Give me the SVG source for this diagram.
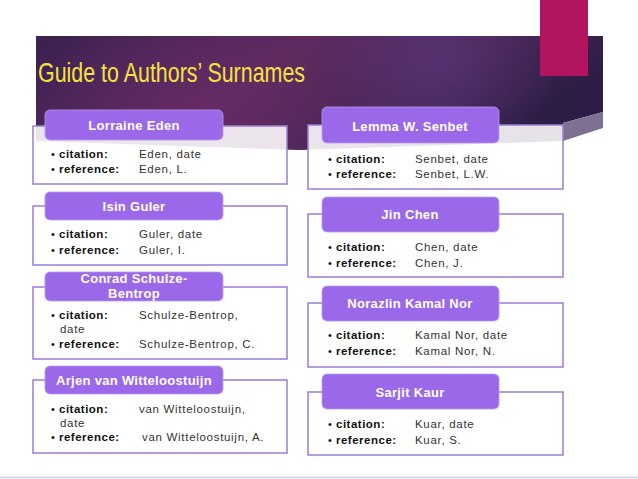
<svg xmlns="http://www.w3.org/2000/svg" width="638" height="479" viewBox="0 0 638 479">
<defs>
<linearGradient id="bg" x1="0" y1="0" x2="1" y2="0.3">
<stop offset="0" stop-color="#3a2150"/>
<stop offset="0.45" stop-color="#5e2a60"/>
<stop offset="0.75" stop-color="#4a2556"/>
<stop offset="1" stop-color="#2d1d45"/>
</linearGradient>
<radialGradient id="glow" cx="440" cy="60" r="120" gradientUnits="userSpaceOnUse">
<stop offset="0" stop-color="#5a3a80" stop-opacity="0.6"/>
<stop offset="1" stop-color="#5a3a80" stop-opacity="0"/>
</radialGradient>
<radialGradient id="glow2" cx="200" cy="130" r="160" gradientUnits="userSpaceOnUse">
<stop offset="0" stop-color="#6e2c68" stop-opacity="0.55"/>
<stop offset="1" stop-color="#6e2c68" stop-opacity="0"/>
</radialGradient>
</defs>
<style>
.box{fill:#ffffff;fill-opacity:0.88;stroke:#9b7dd6;stroke-width:1.5}
.hdr{fill:#9a68e8;stroke:#b79cf0;stroke-width:0.8}
.ht{font-family:"Liberation Sans",Arial,sans-serif;font-size:13px;font-weight:bold;fill:#ffffff;text-anchor:middle;letter-spacing:0.3px}
.lb{font-family:"Liberation Sans",Arial,sans-serif;font-size:11.5px;font-weight:bold;fill:#111111;letter-spacing:0.5px}
.bu{font-family:"Liberation Sans",Arial,sans-serif;font-size:11px;fill:#111111;text-anchor:middle}
.v{font-family:"Liberation Sans",Arial,sans-serif;font-size:11.5px;fill:#333333;letter-spacing:0.7px}
</style>
<rect width="638" height="479" fill="#ffffff"/>
<g id="banner">
<path d="M36,36 H603 V112 L563,123 L563,141 L300,150 L36,141 Z" fill="url(#bg)"/>
<path d="M36,36 H603 V112 L563,123 L563,141 L300,150 L36,141 Z" fill="url(#glow2)"/>
<path d="M36,36 H603 V112 L563,123 L563,141 L300,150 L36,141 Z" fill="url(#glow)"/>
<polygon points="563,123 603,112 603,128 563,141" fill="#7e7090"/>
<rect x="540" y="0" width="48" height="76" fill="#b3145f"/>
<text x="38" y="82" font-family="Liberation Sans,Arial,sans-serif" font-size="27.5" fill="#f3e33f" textLength="267" lengthAdjust="spacingAndGlyphs">Guide to Authors’ Surnames</text>
</g>
<line x1="0" y1="477.5" x2="638" y2="477.5" stroke="#d6cce0" stroke-width="1.5"/>

<g id="node-eden">
<rect class="box" x="33" y="126" width="254" height="58"/>
<rect class="hdr" x="45" y="110" width="178" height="30" rx="5"/>
<text class="ht" x="134" y="130">Lorraine Eden</text>
<text class="bu" x="53" y="158">•</text><text class="lb" x="59" y="158">citation:</text><text class="v" x="139" y="158">Eden, date</text>
<text class="bu" x="53" y="173">•</text><text class="lb" x="59" y="173">reference:</text><text class="v" x="139" y="173">Eden, L.</text>
</g>
<g id="node-guler">
<rect class="box" x="33" y="206" width="254" height="59"/>
<rect class="hdr" x="45" y="192" width="178" height="28" rx="5"/>
<text class="ht" x="134" y="211">Isin Guler</text>
<text class="bu" x="53" y="238">•</text><text class="lb" x="59" y="238">citation:</text><text class="v" x="139" y="238">Guler, date</text>
<text class="bu" x="53" y="254">•</text><text class="lb" x="59" y="254">reference:</text><text class="v" x="139" y="254">Guler, I.</text>
</g>
<g id="node-schulze">
<rect class="box" x="33" y="287" width="254" height="72"/>
<rect class="hdr" x="45" y="272" width="178" height="29" rx="5"/>
<text class="ht" x="134" y="283">Conrad Schulze-</text>
<text class="ht" x="134" y="298">Bentrop</text>
<text class="bu" x="53" y="319">•</text><text class="lb" x="59" y="319">citation:</text><text class="v" x="139" y="319">Schulze-Bentrop,</text>
<text class="v" x="60" y="333">date</text>
<text class="bu" x="53" y="348">•</text><text class="lb" x="59" y="348">reference:</text><text class="v" x="139" y="348">Schulze-Bentrop, C.</text>
</g>
<g id="node-witteloostuijn">
<rect class="box" x="33" y="380" width="254" height="73"/>
<rect class="hdr" x="45" y="366" width="178" height="28" rx="5"/>
<text class="ht" x="134" y="385">Arjen van Witteloostuijn</text>
<text class="bu" x="53" y="413">•</text><text class="lb" x="59" y="413">citation:</text><text class="v" x="139" y="413">van Witteloostuijn,</text>
<text class="v" x="60" y="427">date</text>
<text class="bu" x="53" y="441">•</text><text class="lb" x="59" y="441">reference:</text><text class="v" x="142" y="441">van Witteloostuijn, A.</text>
</g>

<g id="node-senbet">
<rect class="box" x="308" y="125" width="255" height="64"/>
<rect class="hdr" x="322" y="107" width="177" height="36" rx="5"/>
<text class="ht" x="410" y="131">Lemma W. Senbet</text>
<text class="bu" x="330" y="163">•</text><text class="lb" x="336" y="163">citation:</text><text class="v" x="415" y="163">Senbet, date</text>
<text class="bu" x="330" y="178">•</text><text class="lb" x="336" y="178">reference:</text><text class="v" x="415" y="178">Senbet, L.W.</text>
</g>
<g id="node-chen">
<rect class="box" x="308" y="214" width="255" height="63"/>
<rect class="hdr" x="322" y="197" width="177" height="35" rx="5"/>
<text class="ht" x="410" y="219">Jin Chen</text>
<text class="bu" x="330" y="251">•</text><text class="lb" x="336" y="251">citation:</text><text class="v" x="415" y="251">Chen, date</text>
<text class="bu" x="330" y="267">•</text><text class="lb" x="336" y="267">reference:</text><text class="v" x="415" y="267">Chen, J.</text>
</g>
<g id="node-kamalnor">
<rect class="box" x="308" y="303" width="255" height="64"/>
<rect class="hdr" x="322" y="286" width="177" height="35" rx="5"/>
<text class="ht" x="410" y="308">Norazlin Kamal Nor</text>
<text class="bu" x="330" y="339">•</text><text class="lb" x="336" y="339">citation:</text><text class="v" x="415" y="339">Kamal Nor, date</text>
<text class="bu" x="330" y="355">•</text><text class="lb" x="336" y="355">reference:</text><text class="v" x="415" y="355">Kamal Nor, N.</text>
</g>
<g id="node-kaur">
<rect class="box" x="308" y="392" width="255" height="63"/>
<rect class="hdr" x="322" y="374" width="177" height="35" rx="5"/>
<text class="ht" x="410" y="397">Sarjit Kaur</text>
<text class="bu" x="330" y="428">•</text><text class="lb" x="336" y="428">citation:</text><text class="v" x="415" y="428">Kuar, date</text>
<text class="bu" x="330" y="444">•</text><text class="lb" x="336" y="444">reference:</text><text class="v" x="415" y="444">Kuar, S.</text>
</g>
</svg>
